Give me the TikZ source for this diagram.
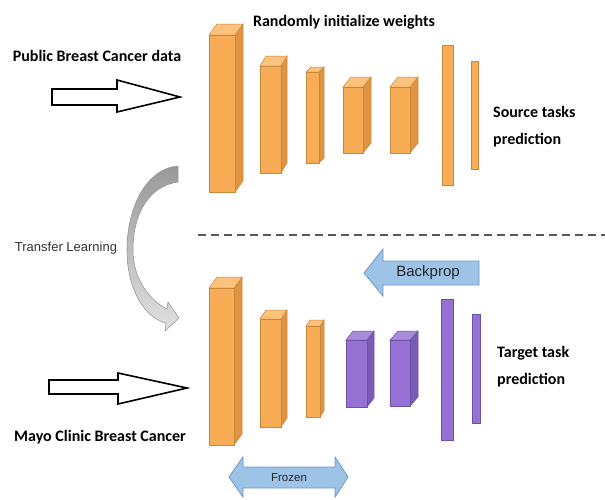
\documentclass[tikz,border=0pt]{standalone}
\usepackage{fontspec}
\setmainfont{Carlito}
\newfontfamily\helv{Liberation Sans}
\usetikzlibrary{arrows.meta}

\definecolor{orangefront}{HTML}{F9AC56}
\definecolor{orangetop}{HTML}{FBC27E}
\definecolor{orangeside}{HTML}{DE9441}
\definecolor{orangeedge}{HTML}{C7883A}
\definecolor{purplefront}{HTML}{9572D1}
\definecolor{purpletop}{HTML}{A98CDC}
\definecolor{purpleside}{HTML}{7A5BB8}
\definecolor{purpleedge}{HTML}{6A52A6}
\definecolor{arrowblue}{HTML}{9DC3E6}
\definecolor{arrowedge}{HTML}{6D96C8}

\tikzset{boldtext/.style={font=\bfseries\fontsize{16}{27}\selectfont, inner sep=0pt},
         thintext/.style={font=\helv\fontsize{#1}{#1}\selectfont, inner sep=0pt},
         thintext/.default=13,
         openarrow/.style={draw=black, line width=1.6pt, fill=white, line join=miter},
         bluearrow/.style={draw=arrowedge, line width=0.8pt, fill=arrowblue}}

% one 3D layer: x left, y top, x right, y bottom, depth dx, depth dy, colour
\newcommand{\cnnlayer}[7]{%
  \filldraw[fill=#7side, draw=#7edge, line width=0.5pt] (#3,#2) -- ++(#5,-#6) -- (#3+#5,#4-#6) -- (#3,#4) -- cycle;
  \filldraw[fill=#7top, draw=#7edge, line width=0.5pt] (#1,#2) -- ++(#5,-#6) -- (#3+#5,#2-#6) -- (#3,#2) -- cycle;
  \filldraw[fill=#7front, draw=#7edge, line width=0.5pt] (#1,#2) rectangle (#3,#4);
}

\begin{document}
\begin{tikzpicture}[x=1pt, y=-1pt]
    \useasboundingbox (0,0) rectangle (605,499);

    % source network
    \foreach \xa/\ya/\xb/\yb/\dx/\dy in {209/35/235/192/8/11, 260/66/281/173/6/10,
        306/72/319/163/5/5, 343/87/363/153/8/10, 390/87/410/153/8/10}
      \cnnlayer{\xa}{\ya}{\xb}{\yb}{\dx}{\dy}{orange};
    \foreach \xa/\ya/\xb/\yb in {442/45/453/185, 471/61/478/169}
      \filldraw[fill=orangefront, draw=orangeedge, line width=0.5pt] (\xa,\ya) rectangle (\xb,\yb);

    % target network: first layers kept, rest retrained
    \foreach \xa/\ya/\xb/\yb/\dx/\dy in {209/288/234/445/8/11, 260/319/281/427/6/9,
        306/326/320/417/4/6}
      \cnnlayer{\xa}{\ya}{\xb}{\yb}{\dx}{\dy}{orange};
    \foreach \xa/\ya/\xb/\yb/\dx/\dy in {346/340/367/407/7/9, 390/340/410/406/8/9}
      \cnnlayer{\xa}{\ya}{\xb}{\yb}{\dx}{\dy}{purple};
    \foreach \xa/\ya/\xb/\yb in {441/299/453/440, 472/314/480/423}
      \filldraw[fill=purplefront, draw=purpleedge, line width=0.5pt] (\xa,\ya) rectangle (\xb,\yb);

    % separator
    \draw[dashed, dash pattern=on 8pt off 5pt, line width=1.6pt, black!65] (198,235) -- (605,235);

    % input arrows
    \draw[openarrow] (52,89) -- (117,89) -- (117,80) -- (180,97) -- (117,112) -- (117,105) -- (52,105) -- cycle;
    \draw[openarrow] (49,380) -- (118,380) -- (118,373) -- (187,388) -- (118,404) -- (118,394) -- (49,394) -- cycle;

    % backprop and frozen arrows
    \draw[bluearrow] (479,261) -- (383,261) -- (383,249) -- (364,273) -- (383,296) -- (383,285) -- (479,285) -- cycle;
    \draw[bluearrow] (229,477) -- (243,457) -- (243,467) -- (335,467) -- (335,457) -- (348,477)
      -- (335,497) -- (335,488) -- (243,488) -- (243,497) -- cycle;

    % curved transfer arrow
    \shade[top color=black!40, bottom color=black!12, draw=black!40, line width=0.6pt]
      (178,166) .. controls (148,168) and (127,205) .. (127,250)
      .. controls (127,290) and (145,318) .. (166,323)
      -- (165,331) -- (179,318) -- (168,302) -- (167,309)
      .. controls (150,300) and (133,280) .. (133,250)
      .. controls (133,212) and (150,186) .. (178,182) -- cycle;

    % texts
    \node[boldtext] (init) at (344,22) {Randomly initialize weights};
    \node[boldtext] (public) at (97,56) {Public Breast Cancer data};
    \node[boldtext] (mayo) at (100,437) {Mayo Clinic Breast Cancer};
    \node[boldtext, anchor=west, align=left] (source) at (493,127) {Source tasks\\prediction};
    \node[boldtext, anchor=west, align=left] (target) at (497,367) {Target task\\prediction};
    \node[thintext, text=black!80] (transfer) at (66,248) {Transfer Learning};
    \node[thintext=15, text=black!85] (backprop) at (428,273) {Backprop};
    \node[thintext=11.5, text=black!85] (frozen) at (289,478) {Frozen};
\end{tikzpicture}
\end{document}
